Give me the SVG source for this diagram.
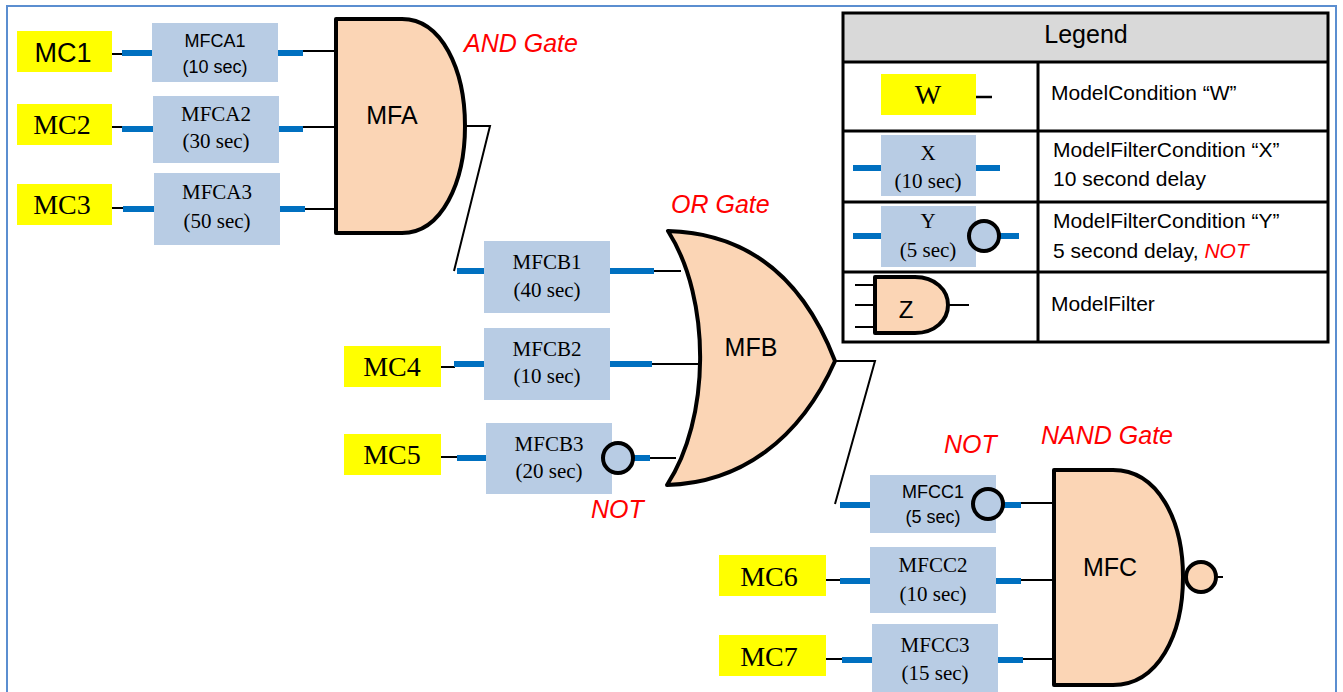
<svg xmlns="http://www.w3.org/2000/svg" width="1343" height="692" viewBox="0 0 1343 692">
<defs>
<style>
.mc{fill:#ffff00}
.mf{fill:#b8cce4}
.blue{stroke:#0070c0;stroke-width:6;fill:none}
.blk{stroke:#000;stroke-width:2;fill:none}
.gate{fill:#fbd5b5;stroke:#000;stroke-width:4;stroke-linejoin:round}
.bub{fill:#b8cce4;stroke:#000;stroke-width:4}
.serif{font-family:"Liberation Serif","Times New Roman",serif;fill:#000;text-anchor:middle}
.sans{font-family:"Liberation Sans",Arial,sans-serif;fill:#000;text-anchor:middle}
.mct{font-size:28px}
.box{font-size:21px}
.sbox{font-size:18px}
.gt{font-size:25px}
.red{font-family:"Liberation Sans",Arial,sans-serif;font-style:italic;fill:#ff0000;font-size:25px}
.lg{font-family:"Liberation Sans",Arial,sans-serif;font-size:21px;fill:#000}
.tbl{stroke:#000;stroke-width:3;fill:none}
</style>
</defs>
<rect width="1343" height="692" fill="#fff"/>
<rect x="7" y="6" width="1329" height="700" fill="none" stroke="#5b8ed0" stroke-width="2"/>

<g id="connectors">
<line class="blk" x1="112" y1="54" x2="122" y2="54"/>
<line class="blue" x1="122" y1="53" x2="152" y2="53"/>
<line class="blue" x1="278" y1="53" x2="303" y2="53"/>
<line class="blk" x1="303" y1="51" x2="336" y2="51"/>
<line class="blk" x1="112" y1="127" x2="122" y2="127"/>
<line class="blue" x1="122" y1="129" x2="153" y2="129"/>
<line class="blue" x1="279" y1="129" x2="303" y2="129"/>
<line class="blk" x1="303" y1="127" x2="336" y2="127"/>
<line class="blk" x1="112" y1="208" x2="123" y2="208"/>
<line class="blue" x1="123" y1="209" x2="154" y2="209"/>
<line class="blue" x1="280" y1="209" x2="305" y2="209"/>
<line class="blk" x1="305" y1="209" x2="336" y2="209"/>
<polyline class="blk" points="465,126 490,126 454,271"/>
<line class="blue" x1="457" y1="271" x2="484" y2="271"/>
<line class="blue" x1="610" y1="271" x2="654" y2="271"/>
<line class="blk" x1="654" y1="271" x2="681" y2="271"/>
<line class="blk" x1="441" y1="367" x2="455" y2="367"/>
<line class="blue" x1="454" y1="364" x2="484" y2="364"/>
<line class="blue" x1="610" y1="364" x2="652" y2="364"/>
<line class="blk" x1="652" y1="364" x2="699" y2="364"/>
<line class="blk" x1="441" y1="457" x2="458" y2="457"/>
<line class="blue" x1="457" y1="458" x2="486" y2="458"/>
<line class="blue" x1="634" y1="458" x2="650" y2="458"/>
<line class="blk" x1="650" y1="458" x2="676" y2="458"/>
<polyline class="blk" points="835,361 875,361 835,504"/>
<line class="blue" x1="840" y1="505" x2="870" y2="505"/>
<line class="blue" x1="1004" y1="505" x2="1021" y2="505"/>
<line class="blk" x1="1021" y1="503" x2="1054" y2="503"/>
<line class="blk" x1="826" y1="580" x2="840" y2="580"/>
<line class="blue" x1="840" y1="581" x2="870" y2="581"/>
<line class="blue" x1="996" y1="581" x2="1021" y2="581"/>
<line class="blk" x1="1021" y1="580" x2="1054" y2="580"/>
<line class="blk" x1="826" y1="659" x2="842" y2="659"/>
<line class="blue" x1="842" y1="660" x2="872" y2="660"/>
<line class="blue" x1="998" y1="660" x2="1023" y2="660"/>
<line class="blk" x1="1023" y1="659" x2="1054" y2="659"/>
<line class="blk" x1="1217" y1="577" x2="1223" y2="577"/>
</g>

<g id="MC1"><rect class="mc" x="17" y="31" width="95" height="41"/><text class="sans" x="63" y="62" font-size="27">MC1</text></g>
<g id="MC2"><rect class="mc" x="17" y="104" width="95" height="41"/><text class="serif mct" x="62" y="134">MC2</text></g>
<g id="MC3"><rect class="mc" x="17" y="184" width="95" height="41"/><text class="serif mct" x="62" y="214">MC3</text></g>
<g id="MC4"><rect class="mc" x="344" y="346" width="97" height="41"/><text class="serif mct" x="392" y="376">MC4</text></g>
<g id="MC5"><rect class="mc" x="344" y="434" width="97" height="41"/><text class="serif mct" x="392" y="464">MC5</text></g>
<g id="MC6"><rect class="mc" x="719" y="555" width="107" height="41"/><text class="serif mct" x="769" y="586">MC6</text></g>
<g id="MC7"><rect class="mc" x="719" y="635" width="107" height="41"/><text class="serif mct" x="769" y="666">MC7</text></g>

<g id="MFCA1"><rect class="mf" x="152" y="23" width="126" height="59"/><text class="sans sbox" x="215" y="47">MFCA1</text><text class="sans sbox" x="215" y="73">(10 sec)</text></g>
<g id="MFCA2"><rect class="mf" x="153" y="96" width="126" height="67"/><text class="serif box" x="216" y="121">MFCA2</text><text class="serif box" x="216" y="148">(30 sec)</text></g>
<g id="MFCA3"><rect class="mf" x="154" y="173" width="126" height="72"/><text class="serif box" x="217" y="199">MFCA3</text><text class="serif box" x="217" y="228">(50 sec)</text></g>

<g id="MFCB1"><rect class="mf" x="484" y="241" width="126" height="72"/><text class="serif box" x="547" y="269">MFCB1</text><text class="serif box" x="547" y="297">(40 sec)</text></g>
<g id="MFCB2"><rect class="mf" x="484" y="328" width="126" height="72"/><text class="serif box" x="547" y="356">MFCB2</text><text class="serif box" x="547" y="383">(10 sec)</text></g>
<g id="MFCB3"><rect class="mf" x="486" y="423" width="126" height="71"/><text class="serif box" x="549" y="451">MFCB3</text><text class="serif box" x="549" y="478">(20 sec)</text><circle class="bub" cx="618" cy="458" r="15"/></g>

<g id="MFCC1"><rect class="mf" x="870" y="475" width="126" height="58"/><text class="sans sbox" x="933" y="498">MFCC1</text><text class="sans sbox" x="933" y="523">(5 sec)</text><circle class="bub" cx="988" cy="504" r="15"/></g>
<g id="MFCC2"><rect class="mf" x="870" y="547" width="126" height="66"/><text class="serif box" x="933" y="572">MFCC2</text><text class="serif box" x="933" y="601">(10 sec)</text></g>
<g id="MFCC3"><rect class="mf" x="872" y="624" width="126" height="70"/><text class="serif box" x="935" y="652">MFCC3</text><text class="serif box" x="935" y="680">(15 sec)</text></g>

<g id="MFA"><path class="gate" d="M336,19 L402,19 C442,19 465,70 465,126 C465,182 442,233 402,233 L336,233 Z"/><text class="sans gt" x="392" y="124">MFA</text></g>
<g id="MFB"><path class="gate" d="M668,231 C740,233 800,270 835,361 C800,440 740,483 667,485 C710,420 712,300 668,231 Z"/><text class="sans gt" x="751" y="356">MFB</text></g>
<g id="MFC"><path class="gate" d="M1054,470 L1113,470 C1158,470 1183,520 1183,577 C1183,635 1158,685 1113,685 L1054,685 Z"/><circle cx="1201" cy="577" r="15" fill="#fbd5b5" stroke="#000" stroke-width="4"/><text class="sans gt" x="1110" y="576">MFC</text></g>

<g id="labels">
<text class="red" x="464" y="52">AND Gate</text>
<text class="red" x="671" y="213">OR Gate</text>
<text class="red" x="591" y="518">NOT</text>
<text class="red" x="944" y="453">NOT</text>
<text class="red" x="1041" y="444">NAND Gate</text>
</g>

<g id="legend">
<rect x="843" y="13" width="485" height="49" fill="#d9d9d9"/>
<rect class="tbl" x="843" y="13" width="485" height="329"/>
<line class="tbl" x1="843" y1="62" x2="1328" y2="62"/>
<line class="tbl" x1="843" y1="131" x2="1328" y2="131"/>
<line class="tbl" x1="843" y1="202" x2="1328" y2="202"/>
<line class="tbl" x1="843" y1="272" x2="1328" y2="272"/>
<line class="tbl" x1="1038" y1="62" x2="1038" y2="342"/>
<text class="sans" x="1086" y="43" font-size="25">Legend</text>
<rect class="mc" x="881" y="74" width="95" height="41"/>
<text class="serif mct" x="928" y="104">W</text>
<line x1="976" y1="97" x2="992" y2="97" stroke="#000" stroke-width="2.5"/>
<text class="lg" x="1051" y="100">ModelCondition “W”</text>
<line class="blue" x1="853" y1="168" x2="881" y2="168"/>
<rect class="mf" x="881" y="135" width="95" height="61"/>
<line class="blue" x1="976" y1="168" x2="1000" y2="168"/>
<text class="serif box" x="928" y="160">X</text>
<text class="serif box" x="928" y="188">(10 sec)</text>
<text class="lg" x="1053" y="157">ModelFilterCondition “X”</text>
<text class="lg" x="1053" y="186">10 second delay</text>
<line class="blue" x1="853" y1="236" x2="881" y2="236"/>
<rect class="mf" x="881" y="206" width="95" height="61"/>
<line class="blue" x1="1000" y1="236" x2="1019" y2="236"/>
<circle class="bub" cx="984" cy="236" r="15"/>
<text class="serif box" x="928" y="228">Y</text>
<text class="serif box" x="928" y="257">(5 sec)</text>
<text class="lg" x="1053" y="228">ModelFilterCondition “Y”</text>
<text class="lg" x="1053" y="258">5 second delay, <tspan fill="#ff0000" font-style="italic">NOT</tspan></text>
<line class="blk" x1="855" y1="285" x2="875" y2="285"/>
<line class="blk" x1="855" y1="305" x2="875" y2="305"/>
<line class="blk" x1="855" y1="327" x2="875" y2="327"/>
<line class="blk" x1="948" y1="305" x2="969" y2="305"/>
<path class="gate" d="M875,277 L915,277 C935,277 948,290 948,305 C948,320 935,333 915,333 L875,333 Z"/>
<text class="sans" x="906" y="318" font-size="24">Z</text>
<text class="lg" x="1051" y="311">ModelFilter</text>
</g>
</svg>
